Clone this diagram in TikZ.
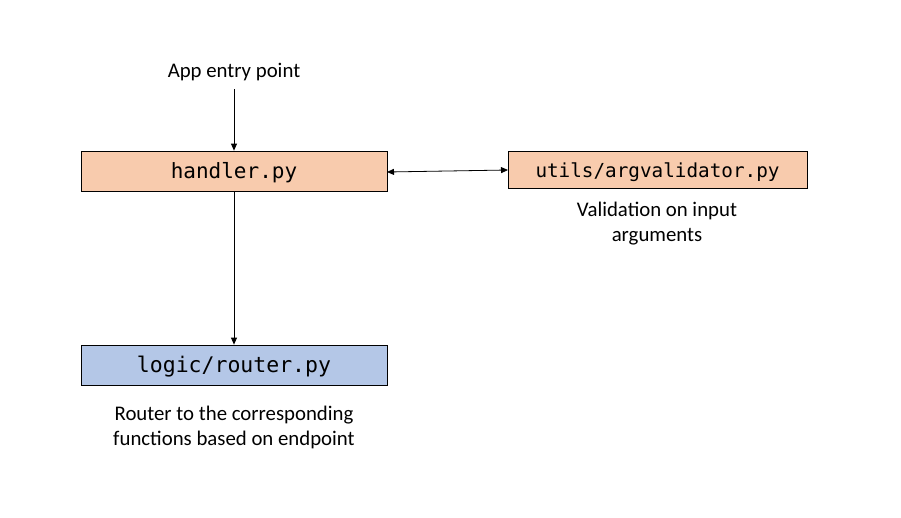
\documentclass[tikz,border=0pt]{standalone}
\usepackage{fontspec}
\setmainfont{Carlito}
\newfontfamily\codefont{DejaVu Sans Mono}
\usetikzlibrary{arrows.meta}
\definecolor{peach}{HTML}{F8CBAD}
\definecolor{lblue}{HTML}{B4C7E7}
\begin{document}
\begin{tikzpicture}[x=1pt,y=-1pt,
  filebox/.style={draw=black, line width=0.8pt, inner sep=0pt, anchor=center, text height=15pt, text depth=0pt},
  note/.style={font=\fontsize{20.8}{25}\selectfont, align=center, inner sep=0pt},
  conn/.style={line width=0.8pt, -{Triangle[length=7pt,width=6pt]}},
  biconn/.style={line width=0.8pt, {Triangle[length=7pt,width=6pt]}-{Triangle[length=7pt,width=6pt]}}]
\useasboundingbox[fill=white] (0,0) rectangle (901,517);
\node[filebox, fill=peach, minimum width=306pt, minimum height=40pt, font=\codefont\fontsize{21}{24}\selectfont] (handler) at (234,171) {handler.py};
\node[filebox, fill=peach, minimum width=299pt, minimum height=37pt, font=\codefont\fontsize{19.3}{22}\selectfont] (valid) at (657.5,169.5) {utils/argvalidator.py};
\node[filebox, fill=lblue, minimum width=306pt, minimum height=40pt, font=\codefont\fontsize{21.5}{24}\selectfont] (router) at (234,365) {logic/router.py};
\node[note] (entry) at (234,72) {App entry point};
\node[note] (vnote) at (657,224) {Validation on input\\arguments};
\node[note] (rnote) at (234,427) {Router to the corresponding\\functions based on endpoint};
\coordinate (entryend) at (234,89);
\coordinate (hl) at (387,172);
\coordinate (vr) at (508,170);
\draw[conn] (entryend) -- (handler.north);
\draw[conn] (handler.south) -- (router.north);
\draw[biconn] (hl) -- (vr);
\end{tikzpicture}
\end{document}
